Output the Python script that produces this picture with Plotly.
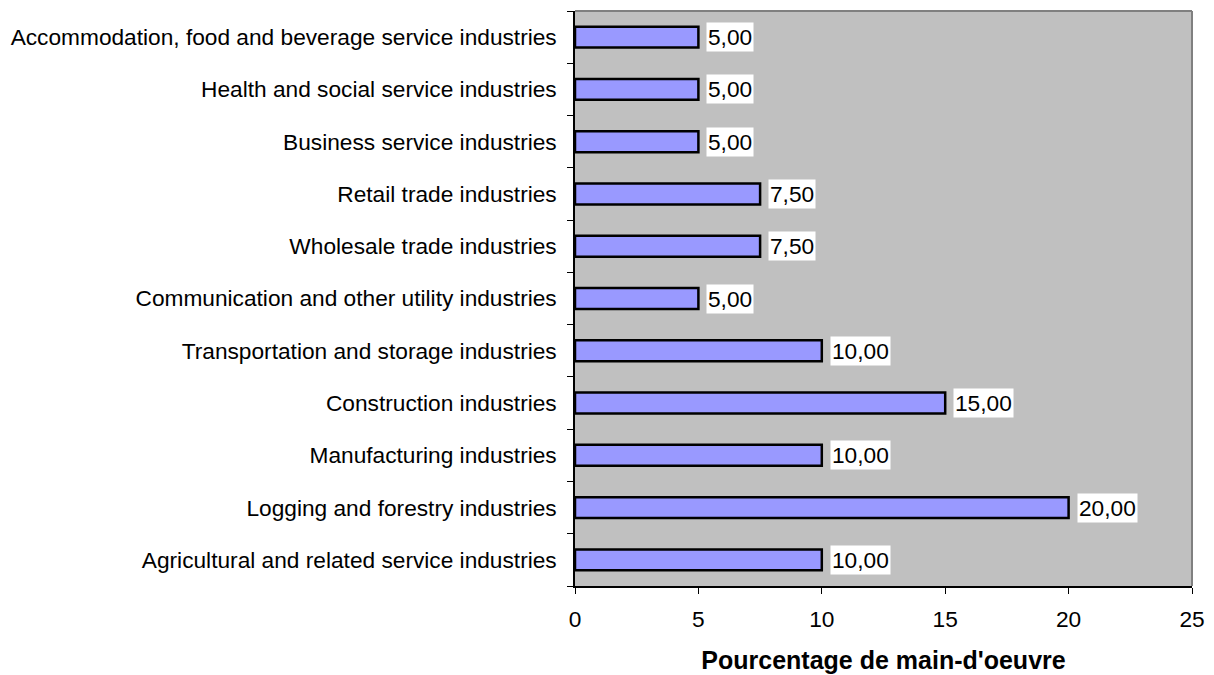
import plotly.graph_objects as go

categories = [
    "Agricultural and related service industries",
    "Logging and forestry industries",
    "Manufacturing industries",
    "Construction industries",
    "Transportation and storage industries",
    "Communication and other utility industries",
    "Wholesale trade industries",
    "Retail trade industries",
    "Business service industries",
    "Health and social service industries",
    "Accommodation, food and beverage service industries",
]
values = [10.0, 20.0, 10.0, 15.0, 10.0, 5.0, 7.5, 7.5, 5.0, 5.0, 5.0]
x_ticks = [0, 5, 10, 15, 20, 25]
x_title = "Pourcentage de main-d'oeuvre"

FONT = "Liberation Sans, Arial, sans-serif"
FS = 22.7

fig = go.Figure()
fig.add_trace(go.Bar(
    y=categories, x=values, orientation="h",
    marker=dict(color="#9999FF", line=dict(color="black", width=2.5)),
    width=0.4, hoverinfo="skip",
))

annotations = []
for c, v in zip(categories, values):
    annotations.append(dict(
        x=v, y=c, xref="x", yref="y",
        text=f"{v:.2f}".replace(".", ","),
        showarrow=False, xanchor="left", xshift=8,
        bgcolor="white", borderpad=1,
        font=dict(family=FONT, size=FS, color="black"),
    ))

fig.update_layout(
    width=1206, height=667,
    margin=dict(l=565, r=22, t=3, b=89),
    paper_bgcolor="white", plot_bgcolor="#C0C0C0",
    showlegend=False,
    font=dict(family=FONT, size=FS, color="black"),
    annotations=annotations,
    shapes=[
        dict(type="line", xref="paper", yref="paper", x0=0, x1=1, y0=1, y1=1,
             line=dict(color="#808080", width=2)),
        dict(type="line", xref="paper", yref="paper", x0=1, x1=1, y0=0, y1=1,
             line=dict(color="#808080", width=2)),
    ],
    bargap=0.6,
)
fig.update_xaxes(
    range=[0, 25], tickvals=x_ticks, ticktext=[str(t) for t in x_ticks],
    showgrid=False, zeroline=False,
    showline=True, linecolor="black", linewidth=1.5,
    ticks="outside", ticklen=6, tickcolor="black",
    ticklabelstandoff=6,
    tickfont=dict(family=FONT, size=FS),
    title=dict(text=f"<b>{x_title}</b>", font=dict(family=FONT, size=25), standoff=21),
)
fig.update_yaxes(
    categoryorder="array", categoryarray=categories,
    range=[-0.5, len(categories) - 0.5],
    showgrid=False, zeroline=False,
    showline=True, linecolor="black", linewidth=1.5,
    ticks="outside", ticklen=6, tickcolor="black", tickson="boundaries",
    ticklabelstandoff=12,
    tickfont=dict(family=FONT, size=FS),
)

fig.write_html("out.html")
